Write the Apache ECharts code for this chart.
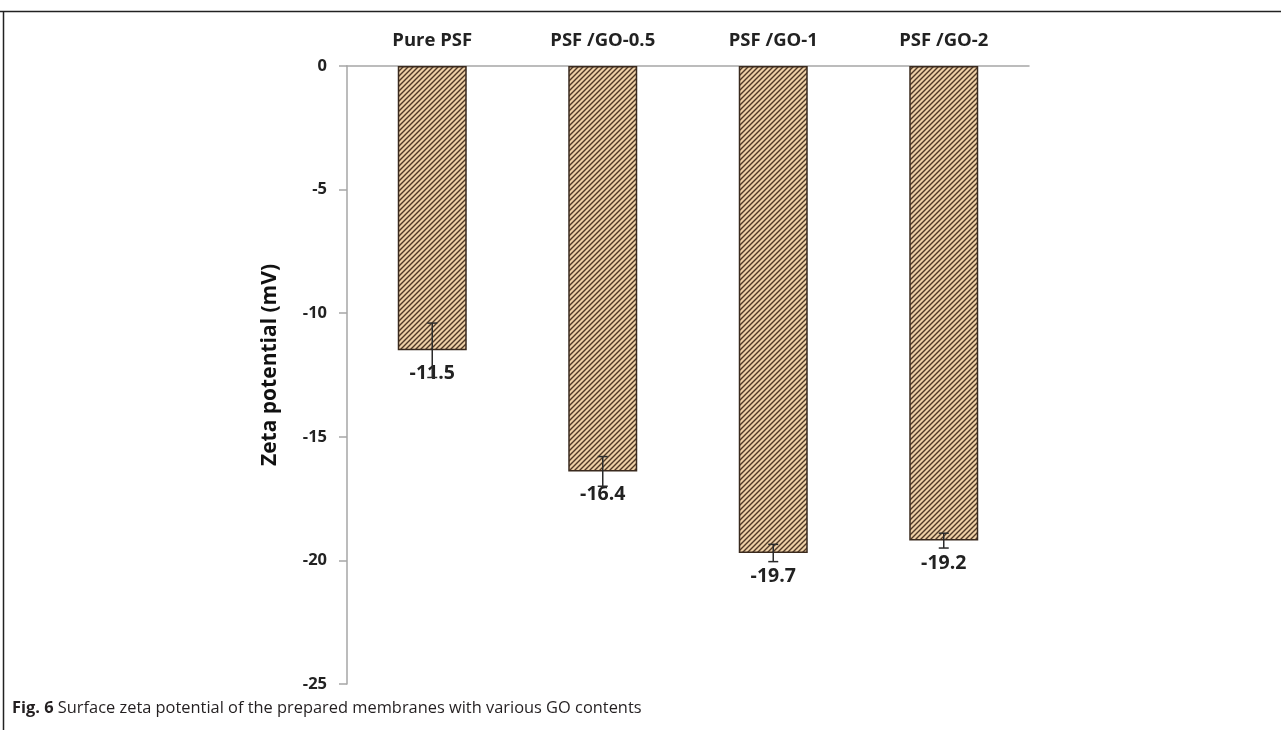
<!DOCTYPE html>
<html>
<head>
<meta charset="utf-8">
<script src="https://cdn.jsdelivr.net/npm/echarts@6/dist/echarts.min.js"></script>
<style>
html,body{margin:0;padding:0;background:#fff;}
#chart{width:1281px;height:730px;}
</style>
</head>
<body>
<div id="chart"></div>
<script>
const categories = ['Pure PSF', 'PSF/GO-0.5', 'PSF/GO-1', 'PSF/GO-2'];
const zetaValues = [-11.5, -16.4, -19.7, -19.2];
const errLow = [-12.6, -17.0, -20.05, -19.5];
const errHigh = [-10.4, -15.8, -19.35, -18.9];
const yTicks = [0, -5, -10, -15, -20, -25];

function makeHatch() {
  const s = 5;
  const c = document.createElement('canvas');
  c.width = s; c.height = s;
  const g = c.getContext('2d');
  g.fillStyle = '#edcfa6';
  g.fillRect(0, 0, s, s);
  g.strokeStyle = '#4f3826';
  g.lineWidth = 1.4;
  g.beginPath();
  g.moveTo(-1, s + 1); g.lineTo(s + 1, -1);
  g.moveTo(-1, 1); g.lineTo(1, -1);
  g.moveTo(s - 1, s + 1); g.lineTo(s + 1, s - 1);
  g.stroke();
  return c;
}

const chart = echarts.init(document.getElementById('chart'), null, {renderer: 'canvas'});
const bold = 'bold';
const fontFam = '"Open Sans", "DejaVu Sans", sans-serif';

chart.setOption({
  animation: false,
  backgroundColor: '#ffffff',
  grid: {left: 347, right: 252, top: 66, bottom: 46, containLabel: false},
  xAxis: {
    type: 'category',
    data: categories,
    position: 'top',
    axisLine: {show: true, lineStyle: {color: '#a6a6a6', width: 1.5}},
    axisTick: {show: false},
    axisLabel: {margin: 16, color: '#222', fontSize: 18.5, fontWeight: bold, fontFamily: fontFam,
      formatter: v => v.replace('PSF/', 'PSF /')}
  },
  yAxis: {
    type: 'value',
    min: -25, max: 0, interval: 5,
    name: 'Zeta potential (mV)',
    nameLocation: 'middle',
    nameGap: 66,
    nameRotate: 90,
    nameTextStyle: {color: '#111', fontSize: 21, fontWeight: bold, fontFamily: fontFam, padding: [0, 0, 0, 20]},
    axisLine: {show: true, lineStyle: {color: '#a6a6a6', width: 1.5}},
    axisTick: {show: true, length: 8, inside: false, lineStyle: {color: '#a6a6a6', width: 1.5}},
    splitLine: {show: false},
    axisLabel: {margin: 20, color: '#222', fontSize: 16.5, fontWeight: bold, fontFamily: fontFam,
      formatter: v => (yTicks.indexOf(v) >= 0 ? String(v) : '')}
  },
  series: [
    {
      type: 'bar',
      data: zetaValues,
      barWidth: 69,
      itemStyle: {
        color: {image: makeHatch(), repeat: 'repeat'},
        borderColor: '#3a2a1e',
        borderWidth: 1.5
      },
      label: {
        show: true,
        position: 'outside',
        distance: 13,
        color: '#222',
        fontSize: 19.5,
        fontWeight: bold,
        fontFamily: fontFam,
        formatter: p => String(p.value)
      },
      z: 2
    },
    {
      type: 'custom',
      z: 5,
      data: categories.map((c, i) => [i, errLow[i], errHigh[i]]),
      encode: {x: 0, y: [1, 2]},
      renderItem: function (params, api) {
        const x = api.value(0);
        const lo = api.coord([x, api.value(1)]);
        const hi = api.coord([x, api.value(2)]);
        const hw = 5;
        const st = {stroke: '#2b2b2b', lineWidth: 1.5};
        return {
          type: 'group',
          children: [
            {type: 'line', shape: {x1: lo[0], y1: lo[1], x2: hi[0], y2: hi[1]}, style: st},
            {type: 'line', shape: {x1: lo[0] - hw, y1: lo[1], x2: lo[0] + hw, y2: lo[1]}, style: st},
            {type: 'line', shape: {x1: hi[0] - hw, y1: hi[1], x2: hi[0] + hw, y2: hi[1]}, style: st}
          ]
        };
      }
    }
  ],
  graphic: [
    {type: 'line', shape: {x1: 0, y1: 11.5, x2: 1281, y2: 11.5}, style: {stroke: '#222', lineWidth: 1.5}},
    {type: 'line', shape: {x1: 3.5, y1: 11, x2: 3.5, y2: 730}, style: {stroke: '#222', lineWidth: 1.5}},
    {type: 'text', left: 12, top: 700, style: {
      text: '{b|Fig. 6} Surface zeta potential of the prepared membranes with various GO contents',
      fill: '#231f20',
      font: '16.4px "Open Sans", sans-serif',
      rich: {b: {fontWeight: 'bold', fontSize: 16.4, fontFamily: '"Open Sans", sans-serif', fill: '#231f20'}}
    }}
  ]
});
</script>
</body>
</html>
